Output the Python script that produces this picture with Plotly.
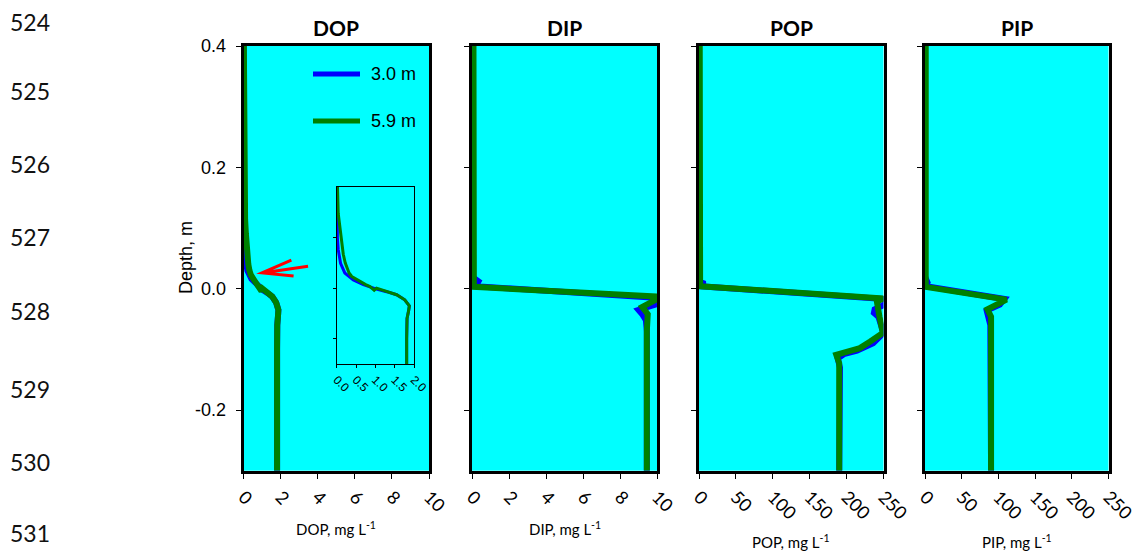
import plotly.graph_objects as go

# ---------------- data: depth profiles (depth in m, concentrations in mg/L) ----------------
series_names = ["3.0 m", "5.9 m"]
series_colors = ["#0000FF", "#008000"]

dop_depth_30 = [0.40, 0.30, 0.20, 0.147, 0.10, 0.076, 0.049, 0.030, 0.016, 0.007, 0.0, -0.002,
                -0.007, -0.013, -0.023, -0.035, -0.045, -0.060, -0.100, -0.30]
dop_30 = [0.0, 0.0, 0.0, 0.0, 0.017, 0.04, 0.10, 0.21, 0.43, 0.69, 0.94, 1.03,
          1.29, 1.55, 1.76, 1.88, 1.86, 1.82, 1.81, 1.81]
dop_depth_59 = [0.40, 0.30, 0.20, 0.147, 0.114, 0.090, 0.067, 0.050, 0.040, 0.030, 0.023, 0.013,
                0.007, 0.003, -0.004, 0.0, -0.007, -0.013, -0.023, -0.035, -0.045, -0.060,
                -0.100, -0.30]
dop_59 = [0.02, 0.02, 0.02, 0.04, 0.086, 0.13, 0.17, 0.22, 0.26, 0.32, 0.39, 0.60,
          0.75, 0.86, 0.97, 1.03, 1.29, 1.55, 1.76, 1.88, 1.86, 1.82, 1.81, 1.81]

dip_depth_30 = [0.40, 0.27, 0.255, 0.24, 0.02, 0.012, 0.004, -0.015, -0.024, -0.029, -0.035,
                -0.042, -0.052, -0.070, -0.30]
dip_30 = [0.0, 0.0, -0.08, 0.0, 0.0, 0.35, 0.2, 9.9, 10.15, 9.6, 9.0, 9.2, 9.4, 9.45, 9.45]
dip_depth_59 = [0.40, 0.10, 0.010, 0.003, -0.013, -0.018, -0.030, -0.042, -0.070, -0.30]
dip_59 = [0.08, 0.08, 0.08, 0.10, 9.95, 9.95, 9.2, 9.5, 9.45, 9.45]

pop_depth_30 = [0.40, 0.035, 0.030, 0.025, 0.012, 0.008, 0.004, -0.017, -0.026, -0.034, -0.040,
                -0.046, -0.073, -0.090, -0.102, -0.108, -0.115, -0.130, -0.30]
pop_30 = [0.0, 0.0, -2.0, 0.0, 0.0, 8.0, 2.0, 252, 252, 238, 237, 243, 250, 236, 214, 196,
          188, 191, 190]
pop_depth_59 = [0.40, 0.020, 0.004, -0.016, -0.021, -0.046, -0.073, -0.087, -0.098, -0.104,
                -0.109, -0.123, -0.30]
pop_59 = [1.0, 1.0, 1.5, 250, 241, 244.5, 249, 232, 218, 200, 186, 190, 190]

pip_depth_30 = [0.40, 0.020, 0.010, 0.004, -0.017, -0.026, -0.036, -0.048, -0.060, -0.30]
pip_30 = [0.0, 0.0, 3.5, 1.5, 108, 102, 84, 86, 89, 90]
pip_depth_59 = [0.40, 0.020, 0.003, -0.018, -0.034, -0.046, -0.070, -0.30]
pip_59 = [1.0, 1.0, 1.0, 111, 85, 90, 90, 90]

panel_titles = ["DOP", "DIP", "POP", "PIP"]
x_titles = ["DOP, mg L<sup>-1</sup>", "DIP, mg L<sup>-1</sup>",
            "POP, mg L<sup>-1</sup>", "PIP, mg L<sup>-1</sup>"]
x_ranges = [[0, 10], [0, 10], [0, 250], [0, 250]]
x_ticks = [[0, 2, 4, 6, 8, 10], [0, 2, 4, 6, 8, 10],
           [0, 50, 100, 150, 200, 250], [0, 50, 100, 150, 200, 250]]
depth_ticks = [-0.2, 0.0, 0.2, 0.4]
depth_ticklabels = ["-0.2", "0.0", "0.2", "0.4"]
inset_x_ticks = [0.0, 0.5, 1.0, 1.5, 2.0]
inset_x_ticklabels = ["0.0", "0.5", "1.0", "1.5", "2.0"]
inset_depth_ticks = [-0.1, 0.0, 0.1]
line_numbers = ["524", "525", "526", "527", "528", "529", "530", "531"]

profiles = [
    [(dop_30, dop_depth_30), (dop_59, dop_depth_59)],
    [(dip_30, dip_depth_30), (dip_59, dip_depth_59)],
    [(pop_30, pop_depth_30), (pop_59, pop_depth_59)],
    [(pip_30, pip_depth_30), (pip_59, pip_depth_59)],
]

# ---------------- layout helpers (pixel -> paper) ----------------
W, H = 1136, 551


def fx(px):
    return px / W


def fy(py):
    return 1 - py / H


panel_px = [(243.5, 429), (472, 657), (699, 883.5), (925, 1108.5)]
plot_top, plot_bottom = 46, 470.7
title_y_px = [528, 528, 541, 541]
line_number_y_px = [22, 91, 164, 237, 311, 389, 462, 533]

fig = go.Figure()

for i, pair in enumerate(profiles):
    ax = "" if i == 0 else str(i + 1)
    for k, (vals, depth) in enumerate(pair):
        fig.add_trace(go.Scatter(
            x=vals, y=depth, mode="lines", name=series_names[k],
            line=dict(color=series_colors[k], width=6),
            xaxis="x" + ax, yaxis="y" + ax, showlegend=False,
            hoverinfo="skip"))

# inset: the DOP profiles near the interface
for k, (vals, depth) in enumerate(profiles[0]):
    fig.add_trace(go.Scatter(
        x=vals, y=depth, mode="lines", name=series_names[k],
        line=dict(color=series_colors[k], width=3),
        xaxis="x5", yaxis="y5", showlegend=False, hoverinfo="skip"))

tick_font = dict(family="Lato", size=18, color="black")
axis_common = dict(showline=True, mirror=True, linecolor="black", linewidth=2.5,
                   showgrid=False, zeroline=False, ticks="outside", tickcolor="black",
                   tickwidth=1.2)

layout = dict(
    width=W, height=H, margin=dict(l=0, r=0, t=0, b=0),
    paper_bgcolor="white", plot_bgcolor="#00FFFF", showlegend=False,
)

for i in range(4):
    ax = "" if i == 0 else str(i + 1)
    x0, x1 = panel_px[i]
    layout["xaxis" + ax] = dict(
        axis_common, domain=[fx(x0), fx(x1)], range=x_ranges[i],
        tickvals=x_ticks[i], ticklen=6, tickangle=45, tickfont=tick_font,
        ticklabeloverflow="allow", anchor="y" + ax, automargin=False)
    layout["yaxis" + ax] = dict(
        axis_common, domain=[fy(plot_bottom), fy(plot_top)], range=[-0.3, 0.4],
        tickvals=depth_ticks, ticktext=depth_ticklabels, ticklen=5,
        showticklabels=(i == 0), ticklabelstandoff=6,
        tickfont=dict(family="Liberation Sans", size=18, color="black"),
        anchor="x" + ax, automargin=False)

layout["xaxis5"] = dict(
    showline=True, mirror=True, linecolor="black", linewidth=1, showgrid=False,
    zeroline=False, ticks="outside", ticklen=3, tickcolor="black",
    domain=[fx(336.7), fx(414)], range=[0, 2], tickvals=inset_x_ticks,
    ticktext=inset_x_ticklabels, tickangle=45, ticklabeloverflow="allow",
    tickfont=dict(family="Liberation Sans", size=12, color="black"),
    anchor="y5", automargin=False)
layout["yaxis5"] = dict(
    showline=True, mirror=True, linecolor="black", linewidth=1, showgrid=False,
    zeroline=False, ticks="outside", ticklen=3, tickcolor="black",
    domain=[fy(364), fy(187)], range=[-0.15, 0.2], tickvals=inset_depth_ticks,
    showticklabels=False, anchor="x5", automargin=False)

fig.update_layout(**layout)

annotations = []
# panel titles and x-axis titles
for i in range(4):
    x0, x1 = panel_px[i]
    cx = (x0 + x1) / 2
    annotations.append(dict(
        text="<b>" + panel_titles[i] + "</b>", x=fx(cx), y=fy(27), xref="paper",
        yref="paper", showarrow=False, xanchor="center", yanchor="middle",
        font=dict(family="Lato", size=21, color="black")))
    annotations.append(dict(
        text=x_titles[i], x=fx(cx), y=fy(title_y_px[i]), xref="paper", yref="paper",
        showarrow=False, xanchor="center", yanchor="middle",
        font=dict(family="Lato", size=15, color="black")))

# depth axis title
annotations.append(dict(
    text="Depth, m", x=fx(186), y=fy(258), xref="paper", yref="paper",
    showarrow=False, textangle=-90, xanchor="center", yanchor="middle",
    font=dict(family="Liberation Sans", size=18, color="black")))

# line numbers down the left margin
for label, py in zip(line_numbers, line_number_y_px):
    annotations.append(dict(
        text=label, x=fx(8), y=fy(py), xref="paper", yref="paper", showarrow=False,
        xanchor="left", yanchor="middle",
        font=dict(family="Lato", size=23, color="#111111")))

# legend entries
shapes = []
legend_y_px = [74, 121]
for k, name in enumerate(series_names):
    shapes.append(dict(type="line", xref="paper", yref="paper",
                       x0=fx(313), x1=fx(360), y0=fy(legend_y_px[k]), y1=fy(legend_y_px[k]),
                       line=dict(color=series_colors[k], width=5)))
    annotations.append(dict(
        text=name, x=fx(369), y=fy(legend_y_px[k]), xref="paper", yref="paper",
        showarrow=False, xanchor="left", yanchor="middle",
        font=dict(family="Liberation Sans", size=18, color="black")))

# red arrow pointing at the DOP profile just above the interface
shapes.append(dict(type="path", xref="x", yref="y",
                   path="M 3.48,0.037 L 1.0,0.026 M 2.58,0.047 L 1.0,0.026 L 2.70,0.021",
                   line=dict(color="#FF0000", width=3)))

fig.update_layout(annotations=annotations, shapes=shapes)

fig.write_html("out.html")
